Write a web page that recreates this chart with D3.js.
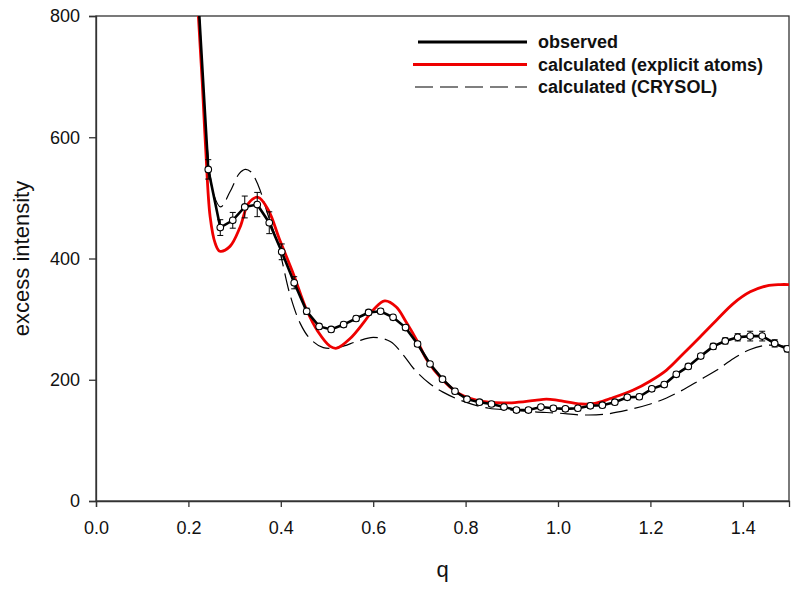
<!DOCTYPE html>
<html lang="en">
<head>
<meta charset="utf-8">
<title>excess intensity vs q</title>
<script src="https://d3js.org/d3.v7.min.js"></script>
<style>
  body { margin: 0; background: #fff; }
  svg text { font-family: Arial, "Liberation Sans", sans-serif; fill: #111; }
  .tick text { font-size: 18px; }
  .legend text { font-size: 18px; font-weight: bold; }
  .axis-title { font-size: 22px; }
</style>
</head>
<body>
<div id="chart"></div>
<script>
// observed data (q, intensity, error)
var obsQ = [0.216,0.243,0.269,0.296,0.322,0.349,0.375,0.402,0.429,0.456,0.483,0.509,0.536,0.563,0.590,0.616,0.643,0.670,0.696,0.723,0.750,0.777,0.803,0.830,0.856,0.883,0.910,0.936,0.963,0.990,1.016,1.043,1.070,1.096,1.123,1.150,1.176,1.203,1.230,1.256,1.282,1.309,1.336,1.362,1.389,1.416,1.442,1.469,1.496];
var obsI = [900,547,451,463,485,489,459,411,360,313,288,283,291,301,311,313,303,286,259,226,201,181,168,163,160,155,150,150,155,153,152,153,157,158,163,171,172,185,192,209,222,239,255,264,270,272,272,260,251];
var obsErr = [20,16,13,13,18,20,18,13,10,5,4,4,4,4,4,4,4,4,4,4,4,4,4,4,4,4,4,4,4,4,4,4,4,4,4,4,4,4,4,4,4,4,5,5,6,8,8,6,5];

// calculated, explicit atoms
var atomQ = [0.212,0.218,0.222,0.230,0.2375,0.247,0.258,0.268,0.290,0.312,0.330,0.351,0.373,0.398,0.427,0.456,0.480,0.507,0.521,0.550,0.580,0.600,0.625,0.650,0.670,0.696,0.716,0.750,0.780,0.800,0.850,0.900,0.950,0.975,1.000,1.050,1.080,1.113,1.163,1.200,1.235,1.270,1.308,1.344,1.380,1.416,1.452,1.481,1.500];
var atomI = [960,860,795,690,580,469,425,412,420,452,491,501,480,430,375,315,280,255,252,268,295,315,330,320,297,263,233,200,180,172,163,162,166,168,166,160,161,169,183,198,216,242,271,299,326,345,355,357,357];

// calculated, CRYSOL
var crysQ = [0.212,0.218,0.228,0.240,0.255,0.270,0.290,0.310,0.323,0.335,0.351,0.373,0.395,0.420,0.442,0.463,0.492,0.528,0.564,0.600,0.637,0.665,0.687,0.720,0.750,0.800,0.850,0.900,0.950,1.000,1.050,1.100,1.150,1.200,1.235,1.272,1.308,1.344,1.380,1.416,1.452,1.481,1.500];
var crysI = [1000,900,740,590,505,485,510,540,547,543,521,470,420,340,293,268,253,254,263,270,263,241,219,195,180,163,153,150,147,145,142,143,150,160,170,184,200,216,235,250,257,256,254];

var xTicks = [0.0,0.2,0.4,0.6,0.8,1.0,1.2,1.4];
var yTicks = [0,200,400,600,800];
var legendLabels = ["observed","calculated (explicit atoms)","calculated (CRYSOL)"];

var width = 800, height = 591;
var margin = {top: 16, right: 11, bottom: 90, left: 96};
var w = width - margin.left - margin.right,
    h = height - margin.top - margin.bottom;

var svg = d3.select("#chart").append("svg")
    .attr("width", width)
    .attr("height", height);

var g = svg.append("g")
    .attr("transform", "translate(" + margin.left + "," + margin.top + ")");

var x = d3.scaleLinear().domain([0, 1.5]).range([0, w]);
var y = d3.scaleLinear().domain([0, 800]).range([h, 0]);

g.append("clipPath").attr("id", "clip")
  .append("rect").attr("width", w).attr("height", h);

// frame
g.append("rect")
    .attr("width", w).attr("height", h)
    .attr("fill", "none").attr("stroke", "#333").attr("stroke-width", 1.3);

var xAxis = g.append("g")
    .attr("transform", "translate(0," + h + ")")
    .call(d3.axisBottom(x).tickValues(xTicks).tickFormat(d3.format(".1f")).tickSize(6).tickPadding(14));
var yAxis = g.append("g")
    .call(d3.axisLeft(y).tickValues(yTicks).tickSize(7).tickPadding(9));
[xAxis, yAxis].forEach(function(a) {
  a.select(".domain").attr("stroke", "#333").attr("stroke-width", 1.3);
  a.selectAll(".tick line").attr("stroke", "#333").attr("stroke-width", 1.3);
  a.selectAll(".tick text").attr("fill", "#111");
});

// axis titles
svg.append("text").attr("class", "axis-title")
    .attr("x", margin.left + w / 2).attr("y", 577)
    .attr("text-anchor", "middle").text("q");
svg.append("text").attr("class", "axis-title")
    .attr("transform", "translate(29," + (margin.top + h / 2) + ") rotate(-90)")
    .attr("text-anchor", "middle").text("excess intensity");

var plot = g.append("g").attr("clip-path", "url(#clip)");

var obs = obsQ.map(function(q, i) { return {q: q, v: obsI[i], e: obsErr[i]}; });
var atoms = atomQ.map(function(q, i) { return {q: q, v: atomI[i]}; });
var crys = crysQ.map(function(q, i) { return {q: q, v: crysI[i]}; });

var smooth = d3.line().curve(d3.curveCatmullRom.alpha(0.5))
    .x(function(d) { return x(d.q); }).y(function(d) { return y(d.v); });
var straight = d3.line()
    .x(function(d) { return x(d.q); }).y(function(d) { return y(d.v); });

plot.append("path").datum(crys)
    .attr("d", smooth).attr("fill", "none")
    .attr("stroke", "#000").attr("stroke-width", 1.2)
    .attr("stroke-dasharray", "18,7");

plot.append("path").datum(atoms)
    .attr("d", smooth).attr("fill", "none")
    .attr("stroke", "#ee0000").attr("stroke-width", 2.8);

// error bars
var eb = plot.append("g").selectAll("g").data(obs).enter().append("g");
eb.append("line")
    .attr("x1", function(d) { return x(d.q); }).attr("x2", function(d) { return x(d.q); })
    .attr("y1", function(d) { return y(d.v - d.e); }).attr("y2", function(d) { return y(d.v + d.e); })
    .attr("stroke", "#000").attr("stroke-width", 1);
[-1, 1].forEach(function(s) {
  eb.append("line")
      .attr("x1", function(d) { return x(d.q) - 3; }).attr("x2", function(d) { return x(d.q) + 3; })
      .attr("y1", function(d) { return y(d.v + s * d.e); }).attr("y2", function(d) { return y(d.v + s * d.e); })
      .attr("stroke", "#000").attr("stroke-width", 1);
});

plot.append("path").datum(obs)
    .attr("d", straight).attr("fill", "none")
    .attr("stroke", "#000").attr("stroke-width", 2.6);

plot.append("g").selectAll("circle").data(obs).enter().append("circle")
    .attr("cx", function(d) { return x(d.q); })
    .attr("cy", function(d) { return y(d.v); })
    .attr("r", 3.3)
    .attr("fill", "#fff").attr("stroke", "#000").attr("stroke-width", 1.1);

// legend
var legend = svg.append("g").attr("class", "legend");
var legendStyle = [
  {stroke: "#000", width: 2.8, dash: null, x1: 418},
  {stroke: "#ee0000", width: 2.8, dash: null, x1: 413},
  {stroke: "#000", width: 1.2, dash: "18,7", x1: 415}
];
legendLabels.forEach(function(label, i) {
  var ly = 42 + i * 22.5;
  var st = legendStyle[i];
  legend.append("line")
      .attr("x1", st.x1).attr("x2", 527).attr("y1", ly).attr("y2", ly)
      .attr("stroke", st.stroke).attr("stroke-width", st.width)
      .attr("stroke-dasharray", st.dash);
  legend.append("text").attr("x", 538).attr("y", ly + 6).text(label);
});
</script>
</body>
</html>
